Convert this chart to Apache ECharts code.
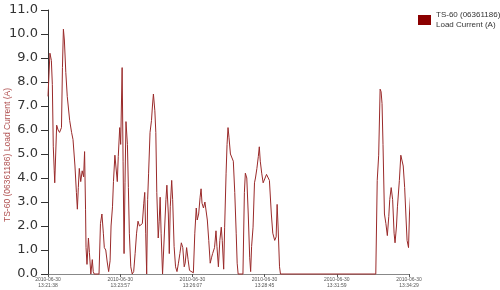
<!DOCTYPE html>
<html>
<head>
<meta charset="utf-8">
<script src="https://cdn.jsdelivr.net/npm/echarts@6/dist/echarts.min.js"></script>
<style>html,body{margin:0;padding:0;background:#fff}#c{width:500px;height:290px}</style>
</head>
<body>
<div id="c"></div>
<script>
// elapsed seconds from the first sample
const seconds = [0,4,7,9,11,13,14,16,18,21,24,28,30,32,34,37,40,45,49,52,56,59,61,63,65,68,71,74,76,78,79,81,84,86,89,92,94,96,106,109,112,115,117,120,123,126,129,131,134,136,139,141,144,146,149,151,154,156,158,160,162,165,167,169,172,175,178,181,184,187,190,193,196,199,201,203,205,207,209,212,215,217,219,222,224,226,229,231,233,235,238,242,245,247,250,252,254,257,259,262,265,268,271,274,277,280,283,285,288,291,294,297,302,305,308,310,313,316,318,320,323,326,329,331,334,337,340,342,346,349,351,354,357,360,362,365,367,370,372,374,376,379,383,385,388,391,393,395,405,408,410,413,416,419,421,423,426,429,431,434,437,439,441,444,447,451,454,457,460,464,467,471,474,476,478,481,483,681,684,687,690,692,694,696,699,702,705,708,710,713,716,719,721,724,726,730,733,735,738,741,744,746,749,751,753,754];
// load current (A)
const current = [7.4,9.2,8.9,7.9,5.3,4.3,3.8,5.0,6.2,6.0,5.9,6.1,8.6,10.2,9.75,8.4,7.4,6.4,5.9,5.6,4.5,3.4,2.7,3.6,4.4,3.85,4.3,4.05,5.1,2.7,1.1,0.4,1.5,0.9,0,0.6,0.1,0,0,2.1,2.5,1.7,1.1,1.0,0.5,0.1,0.55,2.0,2.8,3.85,4.95,4.5,3.85,4.9,6.1,5.4,8.6,4.7,0.85,3.8,6.35,5.4,3.6,1.7,0.3,0,0.1,0.85,1.7,2.2,2.0,1.95,2.1,2.95,3.4,1.7,0,3.1,4.2,5.9,6.4,7.0,7.5,6.8,5.9,3.4,1.5,2.2,3.2,1.7,0,0,3.1,3.7,2.5,0.85,2.8,3.9,3.1,1.15,0.3,0.1,0.45,0.85,1.3,1.1,0.3,0.45,1.1,0.6,0.15,0.1,0.05,1.7,2.75,2.25,2.5,3.2,3.55,2.95,2.75,3.0,2.95,2.25,1.4,0.45,0.7,0.85,1.1,1.8,1.15,0.3,1.4,1.95,1.4,0.2,1.95,4.2,5.4,6.1,5.7,5.0,5.0,4.7,3.4,1.7,0.45,0,0,3.4,4.2,4.0,2.5,0.7,0.1,1.15,1.95,3.8,4.0,4.4,4.9,5.3,4.7,4.2,3.8,4.0,4.15,4.2,3.9,2.5,1.7,1.4,1.55,2.9,2.0,0.3,0,0,3.9,4.95,7.7,7.6,7.1,5.4,2.5,2.1,1.6,2.4,3.1,3.6,3.1,1.7,1.3,2.0,2.8,3.9,4.95,4.9,4.5,3.6,2.25,1.4,1.1,2.5,3.2,3.4];
const tickSeconds = [0,150,300,450,600,750];
const tickDates = ['2010-06-30','2010-06-30','2010-06-30','2010-06-30','2010-06-30','2010-06-30'];
const tickTimes = ['13:21:38','13:23:57','13:26:07','13:28:45','13:31:59','13:34:29'];
const seriesName = 'TS-60 (06361186)\nLoad Current (A)';
const yAxisName = 'TS-60 (06361186) Load Current (A)';

const chart = echarts.init(document.getElementById('c'), null, {renderer: 'canvas'});
const pts = seconds.map((s, i) => [s, current[i]]);
chart.setOption({
  animation: false,
  backgroundColor: '#fff',
  grid: {left: 48, right: 91, top: 10, bottom: 16, containLabel: false, outerBoundsMode: 'none'},
  legend: {
    left: 413, top: 1, orient: 'vertical',
    itemWidth: 13, itemHeight: 10, itemGap: 4,
    icon: 'rect',
    textStyle: {fontFamily: 'Liberation Sans, Arial', fontSize: 8, color: '#333', lineHeight: 10, padding: [8, 0, 0, 0]},
    data: [{name: seriesName, itemStyle: {color: '#8b0000'}}]
  },
  xAxis: {
    type: 'value', min: 0, max: 750, interval: 150,
    axisLine: {show: true, lineStyle: {color: '#888', width: 1}},
    axisTick: {show: true, length: 3, lineStyle: {color: '#555'}},
    splitLine: {show: false},
    axisLabel: {
      margin: 3, fontSize: 5, lineHeight: 6, color: '#555', fontFamily: 'Liberation Sans, Arial',
      formatter: v => {
        const k = tickSeconds.indexOf(v);
        return k < 0 ? '' : tickDates[k] + '\n' + tickTimes[k];
      }
    }
  },
  yAxis: {
    type: 'value', min: 0, max: 11, interval: 1,
    name: yAxisName, nameLocation: 'middle', nameGap: 36, nameRotate: 90, nameMoveOverlap: false,
    nameTextStyle: {fontSize: 8.5, color: '#b05050', fontFamily: 'Liberation Sans, Arial', padding: [0, 0, 0, -26]},
    axisLine: {show: true, lineStyle: {color: '#333', width: 1}},
    axisTick: {show: true, length: 7, lineStyle: {color: '#333'}},
    splitLine: {show: false},
    axisLabel: {
      margin: 10, fontSize: 13, color: '#333', fontFamily: 'DejaVu Sans',
      formatter: v => v.toFixed(1)
    }
  },
  series: [{
    name: seriesName, type: 'line', data: pts, showSymbol: false, clip: false,
    lineStyle: {color: '#9a2a2a', width: 1}, itemStyle: {color: '#8b0000'}
  }]
});
</script>
</body>
</html>
